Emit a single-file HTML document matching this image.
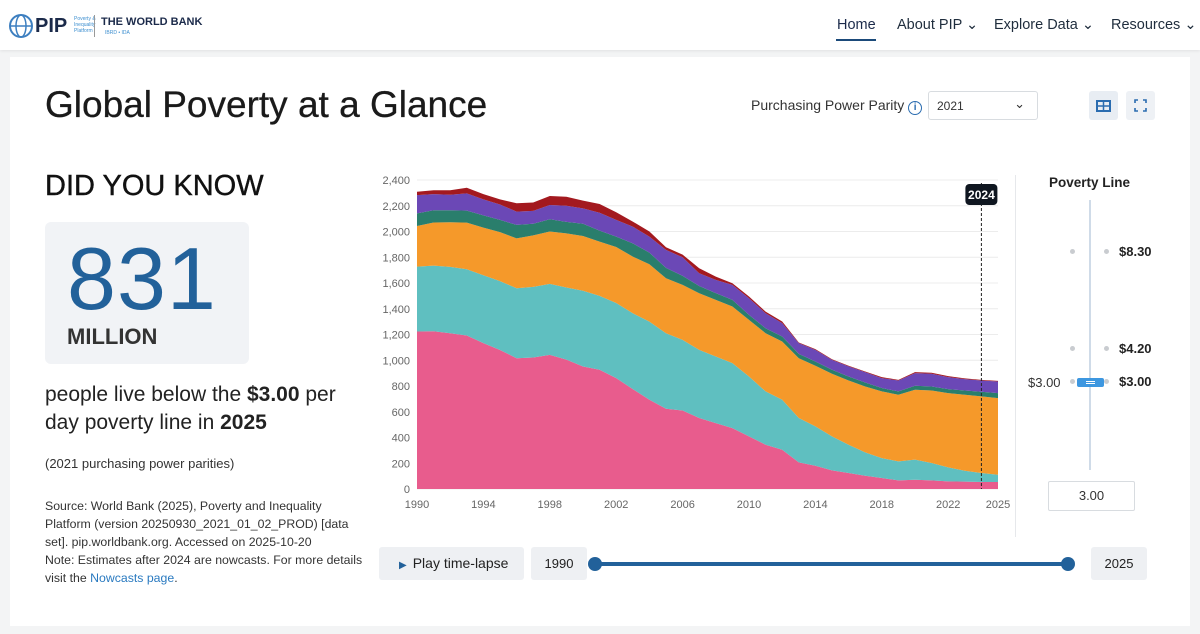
<!DOCTYPE html>
<html><head><meta charset="utf-8">
<style>
*{box-sizing:border-box;margin:0;padding:0}
body{width:1200px;height:634px;overflow:hidden;background:#f3f4f5;font-family:"Liberation Sans",sans-serif;color:#1d1d1f;position:relative}
.abs{position:absolute}
.nav a{position:absolute;top:17px;font-size:14.5px;color:#1f2d3d;text-decoration:none;white-space:nowrap}
</style></head><body>
<div class="abs" style="left:0;top:0;width:1200px;height:50px;background:#fff;box-shadow:0 1px 3px rgba(0,0,0,.08)"></div>
<div class="abs" style="left:8px;top:13px;width:190px;height:28px;white-space:nowrap">
 <svg width="28" height="28" style="position:absolute;left:0;top:0"><circle cx="13" cy="13" r="11" fill="none" stroke="#3d7fc0" stroke-width="2"/><ellipse cx="13" cy="13" rx="5" ry="11" fill="none" stroke="#3d7fc0" stroke-width="1.5"/><line x1="2" y1="13" x2="24" y2="13" stroke="#3d7fc0" stroke-width="1.5"/></svg>
 <span style="position:absolute;left:27px;top:2px;font-size:20px;font-weight:bold;color:#1b2a4a">PIP</span>
 <span style="position:absolute;left:66px;top:3px;font-size:5px;line-height:6px;color:#3d8fd0">Poverty &amp;<br>Inequality<br>Platform</span>
 <span style="position:absolute;left:86px;top:2px;width:1px;height:22px;background:#999"></span>
 <span style="position:absolute;left:93px;top:3px;font-size:11px;font-weight:bold;color:#1b2a4a">THE WORLD BANK</span>
 <span style="position:absolute;left:97px;top:17px;font-size:5px;color:#3d8fd0">IBRD • IDA</span>
</div>
<div class="nav">
 <a style="left:837px;color:#1b2a4a">Home</a>
 <div class="abs" style="left:836px;top:39px;width:40px;height:2px;background:#1b4a7a"></div>
 <a style="left:897px">About PIP &#8964;</a>
 <a style="left:994px">Explore Data &#8964;</a>
 <a style="left:1111px">Resources &#8964;</a>
</div>
<div class="abs" style="left:10px;top:57px;width:1180px;height:569px;background:#fff"></div>
<div class="abs" style="left:45px;top:84px;font-size:37px;color:#1a1a1a;font-weight:500;-webkit-text-stroke:0.3px #1a1a1a">Global Poverty at a Glance</div>
<div class="abs" style="left:751px;top:97px;font-size:14px;color:#333">Purchasing Power Parity <span style="display:inline-block;width:14px;height:14px;border:1.5px solid #2a6cb0;border-radius:50%;font-size:10px;line-height:11px;text-align:center;color:#2a6cb0;font-weight:bold">i</span></div>
<div class="abs" style="left:928px;top:91px;width:110px;height:29px;border:1px solid #d8dce0;border-radius:3px;font-size:12px;padding:7px 8px;color:#333">2021<span style="position:absolute;right:12px;top:4px;font-size:13px">⌄</span></div>
<div class="abs" style="left:1089px;top:91px;width:29px;height:29px;background:#e8edf3;border-radius:3px"><svg width="29" height="29"><rect x="8" y="10" width="13" height="10" fill="none" stroke="#2a6cb0" stroke-width="2"/><line x1="8" y1="15" x2="21" y2="15" stroke="#2a6cb0" stroke-width="1.5"/><line x1="14.5" y1="10" x2="14.5" y2="20" stroke="#2a6cb0" stroke-width="1.5"/></svg></div>
<div class="abs" style="left:1126px;top:91px;width:29px;height:29px;background:#eef1f5;border-radius:3px"><svg width="29" height="29" fill="none" stroke="#2a6cb0" stroke-width="1.6"><path d="M9 12V9h3M17 9h3v3M20 17v3h-3M12 20H9v-3"/></svg></div>

<div class="abs" style="left:45px;top:170px;font-size:29px;color:#111;-webkit-text-stroke:0.4px #111">DID YOU KNOW</div>
<div class="abs" style="left:45px;top:222px;width:204px;height:142px;background:#f1f3f6;border-radius:6px">
 <div style="position:absolute;left:22px;top:6px;font-size:88px;color:#22619a;letter-spacing:1px">831</div>
 <div style="position:absolute;left:22px;top:102px;font-size:22px;font-weight:bold;color:#333">MILLION</div>
</div>
<div class="abs" style="left:45px;top:381px;font-size:21px;line-height:28px;color:#222;width:330px">people live below the <b>$3.00</b> per day poverty line in <b>2025</b></div>
<div class="abs" style="left:45px;top:456px;font-size:13px;color:#333">(2021 purchasing power parities)</div>
<div class="abs" style="left:45px;top:497px;font-size:12.3px;line-height:18px;color:#333;width:325px">Source: World Bank (2025), Poverty and Inequality Platform (version 20250930_2021_01_02_PROD) [data set]. pip.worldbank.org. Accessed on 2025-10-20<br>Note: Estimates after 2024 are nowcasts. For more details visit the <span style="color:#2a7ac0">Nowcasts page</span>.</div>

<svg class="abs" id="chart" style="left:0;top:0" width="1200" height="634"></svg>

<div class="abs" style="left:1015px;top:175px;width:1px;height:362px;background:#e6e8eb"></div>
<div class="abs" style="left:1049px;top:175px;font-size:13.5px;font-weight:bold;color:#222">Poverty Line</div>
<div class="abs" style="left:1089px;top:200px;width:2px;height:270px;background:#cfdbe8"></div>
<div class="abs" style="left:1070px;top:249px;width:5px;height:5px;border-radius:50%;background:#c9ccd0"></div>
<div class="abs" style="left:1104px;top:249px;width:5px;height:5px;border-radius:50%;background:#c9ccd0"></div>
<div class="abs" style="left:1070px;top:346px;width:5px;height:5px;border-radius:50%;background:#c9ccd0"></div>
<div class="abs" style="left:1104px;top:346px;width:5px;height:5px;border-radius:50%;background:#c9ccd0"></div>
<div class="abs" style="left:1070px;top:379px;width:5px;height:5px;border-radius:50%;background:#c9ccd0"></div>
<div class="abs" style="left:1104px;top:379px;width:5px;height:5px;border-radius:50%;background:#c9ccd0"></div>
<div class="abs" style="left:1119px;top:244px;font-size:13px;font-weight:bold;color:#222">$8.30</div>
<div class="abs" style="left:1119px;top:341px;font-size:13px;font-weight:bold;color:#222">$4.20</div>
<div class="abs" style="left:1119px;top:374px;font-size:13px;font-weight:bold;color:#222">$3.00</div>
<div class="abs" style="left:1028px;top:375px;font-size:13px;color:#333">$3.00</div>
<div class="abs" style="left:1077px;top:378px;width:27px;height:9px;border-radius:2px;background:#3d97e0"><div style="position:absolute;left:9px;top:3px;width:9px;height:1px;background:#fff"></div><div style="position:absolute;left:9px;top:5px;width:9px;height:1px;background:#fff"></div></div>
<div class="abs" style="left:1048px;top:481px;width:87px;height:30px;border:1px solid #d8dce0;border-radius:2px;text-align:center;font-size:13px;line-height:28px;color:#333">3.00</div>

<div class="abs" style="left:379px;top:547px;width:145px;height:33px;background:#eef0f3;border-radius:3px;font-size:14px;line-height:33px;color:#222;padding-left:20px"><span style="color:#22619a;font-size:10px;margin-right:6px">▶</span>Play time-lapse</div>
<div class="abs" style="left:531px;top:547px;width:56px;height:33px;background:#eef0f3;border-radius:3px;font-size:13px;line-height:33px;text-align:center;color:#222">1990</div>
<div class="abs" style="left:595px;top:562px;width:473px;height:4px;background:#22619a"></div>
<div class="abs" style="left:588px;top:557px;width:14px;height:14px;border-radius:50%;background:#22619a"></div>
<div class="abs" style="left:1061px;top:557px;width:14px;height:14px;border-radius:50%;background:#22619a"></div>
<div class="abs" style="left:1091px;top:547px;width:56px;height:33px;background:#eef0f3;border-radius:3px;font-size:13px;line-height:33px;text-align:center;color:#222">2025</div>

<script>
const years=[1990,1991,1992,1993,1994,1995,1996,1997,1998,1999,2000,2001,2002,2003,2004,2005,2006,2007,2008,2009,2010,2011,2012,2013,2014,2015,2016,2017,2018,2019,2020,2021,2022,2023,2024,2025];
const seriesPink=[1223,1225,1210,1192,1133,1080,1016,1021,1042,1005,951,926,861,776,693,623,610,551,512,473,409,344,305,207,181,145,124,103,85,67,72,67,59,57,54,54];
const seriesTeal=[504,510,515,515,527,535,543,549,551,560,589,574,584,589,607,587,548,530,517,505,465,414,388,344,305,264,220,181,155,148,156,135,109,85,70,57];
const seriesOrange=[316,335,347,362,370,380,388,400,407,420,425,421,435,440,446,427,427,439,440,439,440,452,453,465,471,486,499,512,518,517,543,563,577,590,595,595];
const seriesGreen=[98,95,93,93,95,95,104,90,95,90,95,86,80,103,90,80,70,57,52,52,38,39,38,34,33,31,31,31,26,26,31,31,31,33,36,39];
const seriesPurple=[142,125,120,134,125,120,103,100,111,125,120,139,130,130,124,140,145,99,103,116,130,116,104,83,91,77,78,81,77,85,98,99,93,88,88,90];
const seriesRed=[26,30,35,44,40,40,65,65,70,70,60,68,60,39,40,21,20,39,26,13,13,13,13,5,5,5,5,5,8,5,8,8,8,6,5,5];
const yTicks=[0,200,400,600,800,1000,1200,1400,1600,1800,2000,2200,2400];
const xTicks=[1990,1994,1998,2002,2006,2010,2014,2018,2022,2025];
const markerYear=2024;
const colors=["#e85c8d","#5fbfc0","#f5992a","#2a7e6c","#6b48b6","#a3191f"];
const names=["series-pink-area","series-teal-area","series-orange-area","series-green-area","series-purple-area","series-darkred-area"];
const all=[seriesPink,seriesTeal,seriesOrange,seriesGreen,seriesPurple,seriesRed];
const X0=417,X1=998,Y0=489,Y1=180;
const xs=y=>X0+(y-1990)/(2025-1990)*(X1-X0);
const ys=v=>Y0-v/2400*(Y0-Y1);
const svg=document.getElementById('chart');
const NS="http://www.w3.org/2000/svg";
function mk(t,a){const e=document.createElementNS(NS,t);for(const k in a)e.setAttribute(k,a[k]);svg.appendChild(e);return e;}
yTicks.forEach(v=>{
 const g=mk('line',{x1:X0,x2:X1,y1:ys(v),y2:ys(v),stroke:'#ececec','stroke-width':1});
 
 
 const t=mk('text',{x:410,y:ys(v)+4,'text-anchor':'end','font-size':11,fill:'#666','font-family':'Liberation Sans, sans-serif'});
 t.textContent=v.toLocaleString('en-US');
 
 
});
let base=years.map(()=>0);
all.forEach((s,i)=>{
 const top=base.map((b,j)=>b+s[j]);
 let d='M'+years.map((y,j)=>xs(y)+','+ys(top[j])).join('L');
 for(let j=years.length-1;j>=0;j--)d+='L'+xs(years[j])+','+ys(base[j]);
 const p=mk('path',{d:d+'Z',fill:colors[i]});
 
 
 base=top;
});
xTicks.forEach(y=>{
 const t=mk('text',{x:xs(y),y:508,'text-anchor':'middle','font-size':11,fill:'#666','font-family':'Liberation Sans, sans-serif'});
 t.textContent=y;
 
 
});
const mx=xs(markerYear);
const ml=mk('line',{x1:mx,x2:mx,y1:183,y2:489,stroke:'#222','stroke-width':1,'stroke-dasharray':'3,2'});


const mb=mk('rect',{x:mx-16,y:184,width:32,height:21,rx:4,fill:'#0f1620'});


const mt=mk('text',{x:mx,y:199,'text-anchor':'middle','font-size':12,'font-weight':'bold',fill:'#fff','font-family':'Liberation Sans, sans-serif'});
mt.textContent=markerYear;


</script>
</body></html>
